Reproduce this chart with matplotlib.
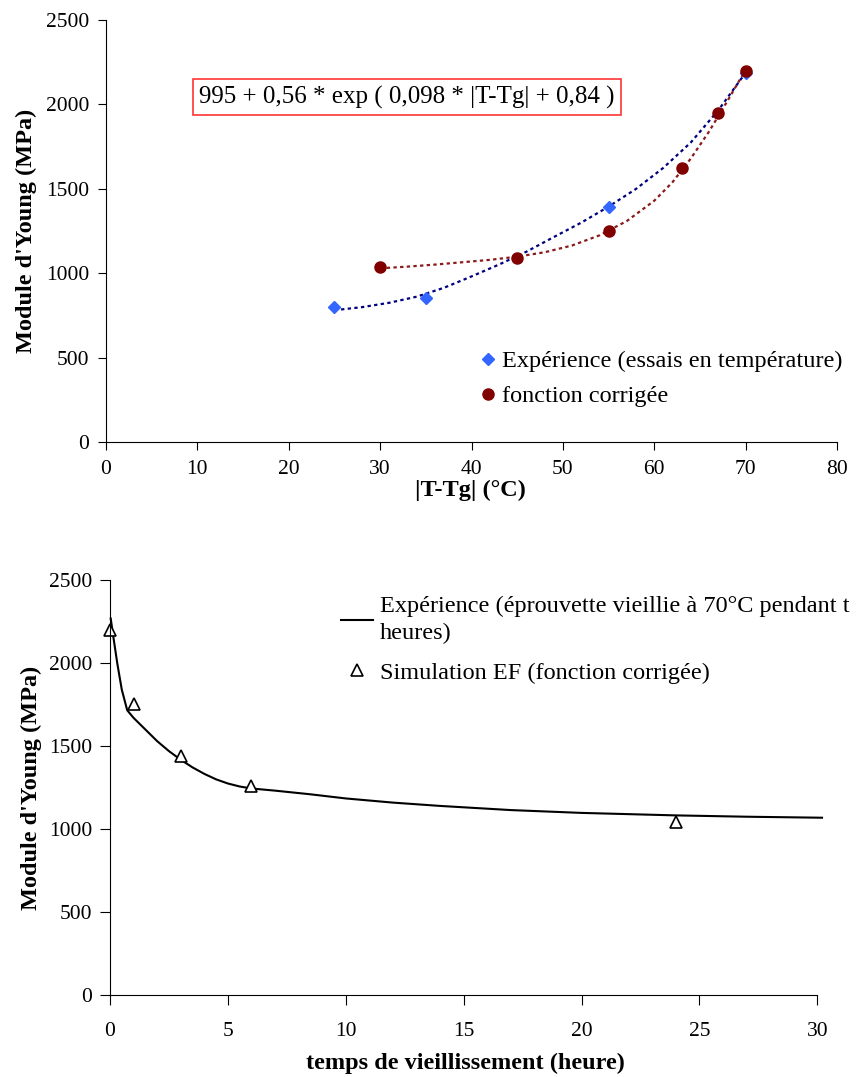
import numpy as np
import matplotlib
matplotlib.use("Agg")
import matplotlib.pyplot as plt

plt.rcParams['font.family'] = ['Liberation Serif', 'DejaVu Serif']

# top chart: E vs |T-Tg|
exp_x = [25, 35, 55, 70]
exp_y = [803, 857, 1391, 2185]
corr_x = [30, 45, 55, 63, 67, 70]
corr_y = [1040, 1093, 1251, 1622, 1950, 2200]

# trendlines
exp_trend_x = [25, 28, 31, 34, 37, 40, 43, 46, 49, 52, 55, 58, 61, 64, 67, 70]
exp_trend_y = [782, 800, 826, 862, 915, 982, 1052, 1128, 1215, 1300, 1395, 1500,
               1625, 1775, 1965, 2188]
corr_trend_x = [30, 33, 36, 39, 42, 45, 48, 51, 54, 57, 60, 62, 64, 66, 68, 70]
corr_trend_y = [1030, 1040, 1052, 1066, 1080, 1099, 1125, 1165, 1225, 1310, 1430,
                1540, 1680, 1840, 2020, 2205]

# bottom chart: E vs ageing time
curve_t = [0.03, 0.15, 0.31, 0.5, 0.73, 1.0, 1.5, 2.0, 2.5, 3.0, 3.5, 4.0, 4.5,
           5.0, 5.5, 6.0, 7.0, 8.5, 10, 12, 14, 17, 20, 24, 27, 30.2]
curve_e = [2268, 2150, 1997, 1840, 1716, 1670, 1600, 1530, 1470, 1418, 1372, 1333,
           1300, 1275, 1257, 1245, 1232, 1210, 1185, 1160, 1140, 1115, 1098, 1083,
           1075, 1069]
sim_t = [0, 1, 3, 6, 24]
sim_e = [2198, 1753, 1440, 1259, 1045]

fig = plt.figure(figsize=(8.59, 10.77), dpi=100)

W, H = 859, 1077
ax1 = fig.add_axes([106 / W, 1 - 442.3 / H, 731 / W, 422.3 / H])
ax2 = fig.add_axes([110 / W, 1 - 995.3 / H, 707.3 / W, 415.3 / H])

dots = (0, (1.5, 1.5))
ax1.plot(exp_trend_x, exp_trend_y, color='#000080', lw=1.6, ls=dots)
ax1.plot(corr_trend_x, corr_trend_y, color='#8b1a1a', lw=1.6, ls=dots)
ax1.plot(exp_x, exp_y, 'D', color='#3366ff', ms=6.5, ls='none',
         label="Expérience (essais en température)")
ax1.plot(corr_x, corr_y, 'o', color='#800000', ms=8, ls='none',
         label="fonction corrigée")

ax1.set_xlim(0, 80)
ax1.set_ylim(0, 2500)
ax1.set_xticks(range(0, 81, 10))
ax1.set_yticks(range(0, 2501, 500))
ax1.text(10.2, 2044, "995 + 0,56 * exp ( 0,098 * |T-Tg| + 0,84 )", fontsize=18,
         ha='left', va='center',
         bbox=dict(boxstyle='square,pad=0.25', ec='#ff3333', fc='white', lw=1.2))
ax1.set_xlabel("|T-Tg| (°C)", fontsize=17.5, fontweight='bold')
ax1.set_ylabel("Module d'Young (MPa)", fontsize=17.5, fontweight='bold')
ax1.xaxis.set_label_coords(0.498, -0.09)
ax1.yaxis.set_label_coords(-0.094, 0.5)
ax1.tick_params(axis='x', length=6, pad=7, labelsize=15.5)
ax1.tick_params(axis='y', length=6, pad=6, labelsize=15.5)
ax1.legend(loc='upper left', bbox_to_anchor=(0.509, 0.2185), frameon=False,
           fontsize=17.5, handlelength=0.8, handletextpad=0.18, borderpad=0,
           labelspacing=0.54, borderaxespad=0)

ax2.plot(curve_t, curve_e, color='black', lw=1.5, clip_on=False,
         label="Expérience (éprouvette vieillie à 70°C pendant t\nheures)")
ax2.plot(sim_t, sim_e, '^', mfc='white', mec='black', mew=1.2, ms=8, ls='none',
         clip_on=False, label="Simulation EF (fonction corrigée)")
ax2.set_xlim(0, 30)
ax2.set_ylim(0, 2500)
ax2.set_xticks(range(0, 31, 5))
ax2.set_yticks(range(0, 2501, 500))
ax2.set_xlabel("temps de vieillissement (heure)", fontsize=17.5, fontweight='bold')
ax2.set_ylabel("Module d'Young (MPa)", fontsize=17.5, fontweight='bold')
ax2.xaxis.set_label_coords(0.502, -0.1395)
ax2.yaxis.set_label_coords(-0.096, 0.5)
ax2.tick_params(axis='x', length=7, pad=12, labelsize=15.5)
ax2.tick_params(axis='y', length=7, pad=6, labelsize=15.5)
leg2 = ax2.legend(loc='upper left', bbox_to_anchor=(0.3266, 0.9615), frameon=False,
                  fontsize=17.5, handlelength=1.32, handletextpad=0.29, borderpad=0,
                  labelspacing=0.72, borderaxespad=0)
leg2.get_texts()[0].set_linespacing(1.38)

for ax in (ax1, ax2):
    ax.spines['top'].set_visible(False)
    ax.spines['right'].set_visible(False)

fig.savefig("out.png", dpi=100)
